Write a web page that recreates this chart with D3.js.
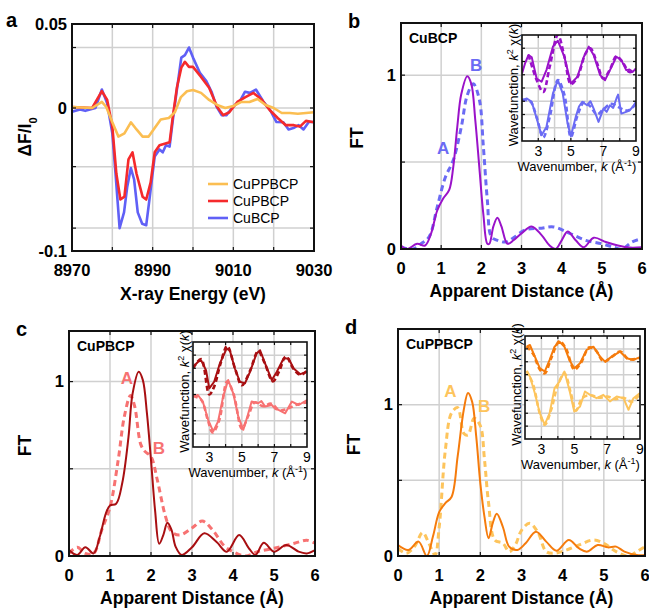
<!DOCTYPE html>
<html>
<head>
<meta charset="utf-8">
<script src="https://cdn.jsdelivr.net/npm/d3@7/dist/d3.min.js"></script>
<style>
body{margin:0;background:#fff}
svg{font-family:Arial,"Liberation Sans",sans-serif}
</style>
</head>
<body>
<div id="chart"></div>
<script>
// ---- panel a : XANES difference ----
const energyTicks = [8970, 8990, 9010, 9030]
const energyGrid = [8980, 8990, 9000, 9010, 9020]
const dfTicks = [[0.05, "0.05"], [0, "0"], [-0.1, "-0.1"]]
const dfGrid = [0.036, 0, -0.041, -0.084]
const seriesNames = ["CuPPBCP", "CuPBCP", "CuBCP"]

const xanesBCP = [[8970,-0.0026],[8972,-0.001],[8973.3,-0.002],[8975.8,0],[8977.4,0.011],[8978.7,0.003],[8980,-0.0177],[8980.8,-0.046],[8981.8,-0.084],[8982.9,-0.073],[8983.7,-0.055],[8984.6,-0.042],[8985.4,-0.05],[8986.3,-0.073],[8987.4,-0.081],[8988.4,-0.082],[8989.2,-0.064],[8990.5,-0.034],[8991.7,-0.029],[8992.5,-0.031],[8993.3,-0.026],[8994.2,-0.027],[8995,-0.0084],[8995.9,0.009],[8997.1,0.030],[8998,0.0315],[8999,0.036],[9000,0.030],[9001.7,0.021],[9003.3,0.016],[9004.6,0.0097],[9005.8,0.001],[9007.1,-0.005],[9008.3,-0.005],[9010,0.001],[9011.6,0.004],[9012.9,0.0097],[9014.1,0.009],[9015.6,0.011],[9017.4,0.004],[9019.1,-0.0014],[9020.7,-0.0098],[9022.4,-0.01],[9023.7,-0.015],[9024.9,-0.014],[9026.2,-0.012],[9027.4,-0.015],[9028.7,-0.0098],[9030,-0.0098]]
const xanesPBCP = [[8970,0.0006],[8975,0],[8977.4,0.010],[8978.7,0.005],[8980,-0.013],[8981,-0.046],[8982,-0.064],[8983,-0.062],[8984,-0.036],[8985,-0.031],[8986,-0.046],[8987.5,-0.062],[8988.4,-0.064],[8989.5,-0.052],[8990.5,-0.031],[8991.7,-0.026],[8994.2,-0.024],[8995,-0.006],[8996,0.012],[8997.1,0.024],[8998,0.0275],[8999,0.0245],[9000,0.0245],[9002,0.0185],[9004,0.012],[9006,0.0006],[9007.5,-0.005],[9009,-0.003],[9011,0.0036],[9013,0.0065],[9015,0.009],[9017,0.005],[9019,-0.0014],[9021,-0.007],[9023,-0.012],[9025,-0.012],[9026.5,-0.013],[9028,-0.009],[9030,-0.01]]
const xanesPPBCP = [[8970,0.0006],[8975,0],[8977.4,0.0036],[8978.5,0.0006],[8980,-0.01],[8981.5,-0.02],[8983,-0.0177],[8984.6,-0.01],[8986,-0.015],[8987.5,-0.02],[8989,-0.02],[8990.5,-0.014],[8992,-0.008],[8994,-0.007],[8995.5,-0.003],[8997,0.0065],[8998.5,0.010],[9000,0.0107],[9002,0.009],[9004,0.0048],[9006,0.0018],[9008,0],[9010,0.0012],[9012,0.0036],[9014,0.0036],[9016,0.0054],[9018,0.0018],[9020,0],[9022,-0.0035],[9024,-0.0035],[9026,-0.004],[9028,-0.0035],[9030,-0.003]]

// ---- panels b-d : Fourier transforms ----
const distTicks = [0, 1, 2, 3, 4, 5, 6]
const distGrid = [1, 2, 3, 4, 5]
const ftTicks = [[0, "0"], [1, "1"]]
const ftGrid = [0.5, 1]

const ftBCP = [[0,0.02],[0.15,0],[0.4,0.03],[0.6,0.02],[0.75,0.09],[0.9,0.22],[1.05,0.29],[1.2,0.34],[1.3,0.47],[1.4,0.70],[1.5,0.89],[1.65,0.994],[1.75,0.95],[1.85,0.74],[1.95,0.47],[2.05,0.20],[2.15,0.03],[2.2,0.03],[2.3,0.13],[2.4,0.18],[2.5,0.13],[2.65,0.03],[2.8,0.05],[3.0,0.09],[3.25,0.13],[3.5,0.08],[3.7,0.02],[3.85,0],[4.0,0.05],[4.15,0.10],[4.35,0.05],[4.55,0.01],[4.8,0.065],[5.1,0.04],[5.4,0.02],[5.7,0.008],[6.0,0.01]]
const ftBCPref = [[0,0.01],[0.3,0],[0.5,0.03],[0.7,0.07],[0.9,0.24],[1.1,0.41],[1.3,0.51],[1.5,0.70],[1.65,0.885],[1.8,0.95],[1.95,0.86],[2.05,0.59],[2.15,0.28],[2.25,0.07],[2.4,0.05],[2.6,0.04],[2.8,0.065],[3.1,0.11],[3.5,0.12],[3.8,0.127],[4.2,0.09],[4.6,0.05],[5.0,0.03],[5.3,0.01],[5.5,0],[5.75,0.04],[6.0,0.06]]
const ftPBCP = [[0,0.034],[0.2,0.006],[0.4,0.05],[0.6,0.015],[0.75,0.11],[0.9,0.245],[1.0,0.29],[1.15,0.30],[1.3,0.42],[1.45,0.68],[1.55,0.93],[1.7,1.057],[1.8,1.01],[1.9,0.82],[2.0,0.55],[2.1,0.26],[2.2,0.07],[2.3,0.12],[2.4,0.19],[2.5,0.15],[2.6,0.054],[2.75,0.006],[3.0,0.05],[3.3,0.13],[3.6,0.08],[3.85,0.025],[4.15,0.12],[4.4,0.04],[4.55,0.006],[4.75,0.076],[5.0,0.025],[5.3,0.063],[5.6,0.025],[5.8,0.015],[6.0,0.034]]
const ftPBCPref = [[0,0.015],[0.2,0.05],[0.4,0.015],[0.6,0.015],[0.8,0.15],[1.0,0.28],[1.2,0.55],[1.35,0.8],[1.5,0.92],[1.6,0.86],[1.75,0.64],[1.85,0.6],[2.0,0.57],[2.15,0.44],[2.35,0.23],[2.5,0.14],[2.7,0.12],[3.0,0.16],[3.25,0.2],[3.5,0.15],[3.8,0.054],[4.0,0.025],[4.3,0],[4.6,0.025],[5.0,0.044],[5.5,0.073],[5.8,0.09],[6.0,0.073]]
const ftPPBCP = [[0,0.073],[0.25,0.04],[0.5,0.095],[0.7,0],[0.85,0.13],[1.0,0.29],[1.15,0.35],[1.3,0.39],[1.45,0.66],[1.6,0.97],[1.7,1.077],[1.8,1.02],[1.9,0.79],[2.0,0.48],[2.1,0.26],[2.2,0.117],[2.3,0.216],[2.4,0.28],[2.55,0.19],[2.7,0.062],[2.9,0.04],[3.1,0.084],[3.35,0.16],[3.6,0.095],[3.85,0.035],[4.15,0.106],[4.4,0.05],[4.6,0.029],[4.85,0.073],[5.1,0.057],[5.3,0.062],[5.5,0.029],[5.8,0.007],[6.0,0.007]]
const ftPPBCPref = [[0,0.05],[0.2,0.018],[0.4,0.062],[0.6,0.155],[0.75,0.084],[0.9,0.007],[1.0,0.19],[1.15,0.7],[1.3,0.945],[1.45,0.98],[1.6,0.81],[1.7,0.8],[1.85,0.91],[2.0,0.86],[2.1,0.64],[2.2,0.35],[2.35,0.106],[2.55,0.084],[2.7,0.029],[2.85,0.073],[3.0,0.17],[3.2,0.216],[3.4,0.155],[3.6,0.029],[3.8,0.018],[4.1,0.04],[4.4,0.073],[4.75,0.106],[5.0,0.084],[5.3,0.029],[5.6,0],[5.8,0.029],[6.0,0.062]]

// ---- insets : k-space wavefunctions (arbitrary offset units) ----
const kTicks = [3, 5, 7, 9]
const kGrid = [3, 4, 5, 6, 7, 8]
const chiGrid = [1, 2, 3, 4, 5, 6, 7]

const chiBCPfit = [[2.0,5.1],[2.2,5.9],[2.4,6.49],[2.6,6.31],[2.9,4.72],[3.2,4.47],[3.5,5.35],[3.9,7.12],[4.2,7.57],[4.6,6.36],[5.0,4.34],[5.4,4.84],[5.8,6.36],[6.1,7.12],[6.4,6.49],[6.8,4.97],[7.1,4.59],[7.4,5.35],[7.8,6.36],[8.1,6.1],[8.4,5.35],[8.6,5.4],[8.8,5.22],[9.0,5.48]]
const chiBCPfitDash = [[2.4,6.5],[2.9,4.6],[3.3,3.7],[3.7,5.6],[4.2,8.0],[4.6,6.4],[5.0,4.3],[5.4,4.8],[5.9,6.6],[6.2,7.0],[6.6,5.9],[7.0,4.7],[7.4,5.4],[7.8,6.4],[8.2,5.9],[8.6,5.2],[9.0,5.4]]
const chiBCP = [[2.0,3.08],[2.3,3.21],[2.6,2.95],[2.9,1.7],[3.2,0.43],[3.5,1.06],[3.9,3.59],[4.2,4.59],[4.5,3.59],[4.8,1.32],[5.0,0.35],[5.3,1.82],[5.5,2.6],[5.7,2.95],[6.0,2.7],[6.2,3.0],[6.4,2.45],[6.7,1.44],[7.0,2.45],[7.2,2.2],[7.4,2.7],[7.6,2.5],[7.8,3.21],[7.9,3.5],[8.1,2.07],[8.4,2.2],[8.6,2.3],[8.8,2.57],[9.0,2.95]]
const chiBCPdash = [[2.0,3.1],[2.5,3.0],[2.9,1.8],[3.3,0.25],[3.7,1.8],[4.2,4.6],[4.6,3.5],[5.0,0.3],[5.4,1.9],[5.8,2.9],[6.2,2.6],[6.6,2.0],[7.0,2.4],[7.5,2.8],[8.0,2.5],[8.5,2.3],[9.0,2.8]]

const chiPBCPfit = [[2.0,6.1],[2.3,6.48],[2.5,6.6],[2.8,5.85],[3.0,4.47],[3.3,4.97],[3.65,6.36],[4.06,7.5],[4.26,7.37],[4.57,5.98],[4.88,4.97],[5.19,4.85],[5.5,5.73],[5.9,7.12],[6.12,7.37],[6.43,6.36],[6.84,5.1],[7.15,5.73],[7.56,6.74],[7.87,6.74],[8.18,5.98],[8.59,5.55],[9.0,5.73]]
const chiPBCPfitDash = [[2.0,6.0],[2.5,6.7],[3.0,4.0],[3.3,4.6],[3.7,6.4],[4.1,7.7],[4.6,5.9],[5.0,4.7],[5.5,5.8],[6.0,7.3],[6.4,6.4],[6.9,5.0],[7.3,5.8],[7.7,6.9],[8.2,5.9],[8.6,5.5],[9.0,5.8]]
const chiPBCP = [[2.0,3.84],[2.3,3.96],[2.6,3.46],[2.93,2.07],[3.24,1.19],[3.54,1.94],[3.85,3.84],[4.16,5.1],[4.47,4.09],[4.78,2.32],[5.09,1.31],[5.34,2.32],[5.6,3.46],[6.0,3.33],[6.2,3.5],[6.43,3.08],[6.84,3.2],[7.05,2.9],[7.25,2.83],[7.66,2.57],[8.07,3.46],[8.49,3.2],[9.0,3.58]]
const chiPBCPdash = [[2.0,3.9],[2.5,3.6],[2.9,2.1],[3.2,1.1],[3.6,2.0],[4.1,5.0],[4.5,4.0],[5.0,1.4],[5.4,2.4],[5.8,3.4],[6.3,3.1],[6.8,3.3],[7.3,2.8],[7.8,2.9],[8.3,3.2],[9.0,3.4]]

const chiPPBCPfit = [[2.1,7.17],[2.3,7.3],[2.6,6.4],[2.9,5.5],[3.2,5.24],[3.5,6.14],[3.8,7.17],[4.1,7.56],[4.4,7.17],[4.7,6.14],[5.0,5.5],[5.35,5.88],[5.75,6.92],[6.16,7.17],[6.57,6.4],[6.87,6.01],[7.28,6.4],[7.78,6.79],[8.19,6.27],[8.6,6.14],[9.0,6.35]]
const chiPPBCPfitDash = [[2.1,7.2],[2.5,6.6],[2.9,5.4],[3.2,5.1],[3.6,6.3],[4.1,7.6],[4.5,7.0],[5.0,5.4],[5.4,5.9],[5.9,7.1],[6.3,6.9],[6.8,6.0],[7.3,6.4],[7.8,6.8],[8.3,6.2],[9.0,6.3]]
const chiPPBCP = [[2.1,5.24],[2.3,4.85],[2.6,3.56],[2.9,2.01],[3.2,1.11],[3.5,2.01],[3.8,3.95],[4.1,4.46],[4.4,5.24],[4.7,3.82],[5.0,2.14],[5.35,2.53],[5.65,3.69],[5.96,3.43],[6.36,3.17],[6.77,3.43],[7.17,2.92],[7.58,3.3],[7.99,3.17],[8.3,2.27],[8.6,3.17],[9.0,3.56]]
const chiPPBCPdash = [[2.1,5.3],[2.5,4.2],[2.9,2.0],[3.2,1.1],[3.6,2.3],[4.0,4.2],[4.4,5.1],[4.8,3.5],[5.1,2.2],[5.5,3.2],[6.0,3.4],[6.5,3.2],[7.0,3.3],[7.5,3.1],[8.0,3.2],[8.5,2.9],[9.0,3.5]]

const grid = "#d0d0d0"

const svg = d3.select("#chart").append("svg").attr("width", 649).attr("height", 609)

drawPanelA()
drawFTPanel({letter:"b", name:"CuBCP", box:{left:401,right:642,top:23,bottom:249}, ymax:1.3,
  main:ftBCP, ref:ftBCPref, dark:"#9a12c9", light:"#6b6bf4", marks:[["A",1.05,0.58],["B",1.87,1.06]],
  inset:{left:522,right:636,top:35,bottom:141}, up:chiBCPfit, upDash:chiBCPfitDash, low:chiBCP, lowDash:chiBCPdash})
drawFTPanel({letter:"c", name:"CuPBCP", box:{left:69,right:315,top:331,bottom:556}, ymax:1.29,
  main:ftPBCP, ref:ftPBCPref, dark:"#a80f12", light:"#f77272", marks:[["A",1.41,1.02],["B",2.19,0.62]],
  inset:{left:193,right:307,top:342,bottom:447}, up:chiPBCPfit, upDash:chiPBCPfitDash, low:chiPBCP, lowDash:chiPBCPdash})
drawFTPanel({letter:"d", name:"CuPPBCP", box:{left:398,right:645,top:329,bottom:556}, ymax:1.5,
  main:ftPPBCP, ref:ftPPBCPref, dark:"#f57b0c", light:"#fdc45c", marks:[["A",1.27,1.09],["B",2.09,0.99]],
  inset:{left:525,right:640,top:336,bottom:439}, up:chiPPBCPfit, upDash:chiPPBCPfitDash, low:chiPPBCP, lowDash:chiPPBCPdash})

function drawGrid(g, sc, box, xs, ys){
  g.append("g").selectAll("line").data(xs).join("line")
    .attr("x1", d => sc.x(d)).attr("x2", d => sc.x(d)).attr("y1", box.top).attr("y2", box.bottom)
    .attr("stroke", grid).attr("stroke-width", 1.5)
  g.append("g").selectAll("line").data(ys).join("line")
    .attr("y1", d => sc.y(d)).attr("y2", d => sc.y(d)).attr("x1", box.left).attr("x2", box.right)
    .attr("stroke", grid).attr("stroke-width", 1.5)
}

function drawBorder(g, sc, box, xs, ys, len, w){
  const t = g.append("g").attr("stroke", "#111").attr("stroke-width", 1.2)
  xs.forEach(v => {
    t.append("line").attr("x1", sc.x(v)).attr("x2", sc.x(v)).attr("y1", box.bottom).attr("y2", box.bottom - len)
    t.append("line").attr("x1", sc.x(v)).attr("x2", sc.x(v)).attr("y1", box.top).attr("y2", box.top + len)
  })
  ys.forEach(v => {
    t.append("line").attr("y1", sc.y(v)).attr("y2", sc.y(v)).attr("x1", box.left).attr("x2", box.left + len)
    t.append("line").attr("y1", sc.y(v)).attr("y2", sc.y(v)).attr("x1", box.right).attr("x2", box.right - len)
  })
  g.append("rect").attr("x", box.left).attr("y", box.top)
    .attr("width", box.right - box.left).attr("height", box.bottom - box.top)
    .attr("fill", "none").attr("stroke", "#111").attr("stroke-width", w)
}

function clipFor(id, box){
  svg.append("clipPath").attr("id", id).append("rect")
    .attr("x", box.left).attr("y", box.top).attr("width", box.right - box.left).attr("height", box.bottom - box.top)
  return `url(#${id})`
}

function axisText(g, sc, box, xt, yt, fs){
  g.append("g").selectAll("text").data(xt).join("text")
    .attr("x", d => sc.x(d)).attr("y", box.bottom + 19).attr("dy", "0.35em")
    .attr("text-anchor", "middle").attr("font-size", fs).attr("font-weight", "bold").text(d => d)
  g.append("g").selectAll("text").data(yt).join("text")
    .attr("x", box.left - 5).attr("y", d => sc.y(d[0])).attr("dy", "0.35em")
    .attr("text-anchor", "end").attr("font-size", fs).attr("font-weight", "bold").text(d => d[1])
}

function drawPanelA(){
  const box = {left:72, right:314, top:24, bottom:251}
  const sc = {
    x: d3.scaleLinear().domain([8970, 9030]).range([box.left, box.right]),
    y: d3.scaleLinear().domain([-0.1, 0, 0.05]).range([box.bottom, 108, box.top])
  }
  const g = svg.append("g")
  drawGrid(g, sc, box, energyGrid, dfGrid)
  const line = d3.line().x(d => sc.x(d[0])).y(d => sc.y(d[1]))
  const clip = clipFor("clipA", box)
  const colors = ["#fbbe52", "#f52a2c", "#6060f6"]
  const data = [xanesPPBCP, xanesPBCP, xanesBCP]
  ;[2, 1, 0].forEach(i => {
    g.append("path").datum(data[i]).attr("clip-path", clip).attr("fill", "none")
      .attr("stroke", colors[i]).attr("stroke-width", 2.6).attr("stroke-linejoin", "round").attr("d", line)
  })
  drawBorder(g, sc, box, energyGrid, dfGrid, 4, 2)
  axisText(g, sc, box, energyTicks, dfTicks, 16.5)

  g.append("text").attr("x", 193).attr("y", box.bottom + 43).attr("dy", "0.35em").attr("text-anchor", "middle")
    .attr("font-size", 17.5).attr("font-weight", "bold").text("X-ray Energy (eV)")
  const yl = g.append("text").attr("transform", `translate(${box.left - 47},137) rotate(-90)`)
    .attr("dy", "0.35em").attr("text-anchor", "middle").attr("font-size", 17.5).attr("font-weight", "bold")
  yl.append("tspan").text("ΔF/I")
  yl.append("tspan").attr("font-size", 11).attr("baseline-shift", "sub").text("0")
  g.append("text").attr("x", 6).attr("y", 27).attr("font-size", 20).attr("font-weight", "bold").text("a")

  seriesNames.forEach((n, i) => {
    const y = 184 + i * 17
    g.append("line").attr("x1", 208).attr("x2", 228).attr("y1", y).attr("y2", y)
      .attr("stroke", colors[i]).attr("stroke-width", 2.6)
    g.append("text").attr("x", 233).attr("y", y).attr("dy", "0.35em").attr("font-size", 14).text(n)
  })
}

function drawFTPanel(p){
  const box = p.box
  const sc = {
    x: d3.scaleLinear().domain([0, 6]).range([box.left, box.right]),
    y: d3.scaleLinear().domain([0, p.ymax]).range([box.bottom, box.top])
  }
  const g = svg.append("g")
  drawGrid(g, sc, box, distGrid, ftGrid)
  const clip = clipFor("clip" + p.letter, box)
  const line = d3.line().x(d => sc.x(d[0])).y(d => sc.y(d[1])).curve(d3.curveCatmullRom.alpha(0.5))
  g.append("path").datum(p.ref).attr("clip-path", clip).attr("fill", "none").attr("stroke", p.light)
    .attr("stroke-width", 3).attr("stroke-dasharray", "6 4").attr("d", line)
  g.append("path").datum(p.main).attr("clip-path", clip).attr("fill", "none").attr("stroke", p.dark)
    .attr("stroke-width", 2).attr("d", line)
  drawBorder(g, sc, box, distGrid, ftGrid, 4, 2)
  axisText(g, sc, box, distTicks, ftTicks, 16.5)

  g.append("text").attr("x", (box.left + box.right) / 2).attr("y", box.bottom + 42).attr("dy", "0.35em")
    .attr("text-anchor", "middle").attr("font-size", 17.5).attr("font-weight", "bold").text("Apparent Distance (Å)")
  g.append("text").attr("transform", `translate(${box.left - 44},${(box.top + box.bottom) / 2 + 2}) rotate(-90)`)
    .attr("dy", "0.35em").attr("text-anchor", "middle").attr("font-size", 17.5).attr("font-weight", "bold").text("FT")
  g.append("text").attr("x", box.left - 53).attr("y", box.top + 5).attr("font-size", 20).attr("font-weight", "bold").text(p.letter)
  g.append("text").attr("x", box.left + 8).attr("y", box.top + 20).attr("font-size", 14).attr("font-weight", "bold").text(p.name)
  g.append("g").selectAll("text").data(p.marks).join("text")
    .attr("x", d => sc.x(d[1])).attr("y", d => sc.y(d[2])).attr("dy", "0.35em").attr("text-anchor", "middle")
    .attr("fill", p.light).attr("font-size", 17).attr("font-weight", "bold").text(d => d[0])

  drawInset(p)
}

function drawInset(p){
  const box = p.inset
  const sc = {
    x: d3.scaleLinear().domain([2, 9]).range([box.left, box.right]),
    y: d3.scaleLinear().domain([0, 8]).range([box.bottom, box.top])
  }
  const g = svg.append("g")
  g.append("rect").attr("x", box.left).attr("y", box.top).attr("width", box.right - box.left)
    .attr("height", box.bottom - box.top).attr("fill", "#fff")
  drawGrid(g, sc, box, kGrid, chiGrid)
  const clip = clipFor("clipIn" + p.letter, box)
  const raw = d3.line().x(d => sc.x(d[0])).y(d => sc.y(d[1]))
  const fit = d3.line().x(d => sc.x(d[0])).y(d => sc.y(d[1])).curve(d3.curveCatmullRom.alpha(0.5))
  ;[[p.up, p.upDash, p.dark], [p.low, p.lowDash, p.light]].forEach(([s, f, c]) => {
    g.append("path").datum(f).attr("clip-path", clip).attr("fill", "none").attr("stroke", c)
      .attr("stroke-width", 2.6).attr("stroke-dasharray", "5 3").attr("d", fit)
    g.append("path").datum(s).attr("clip-path", clip).attr("fill", "none").attr("stroke", c)
      .attr("stroke-width", 2).attr("stroke-linejoin", "round").attr("d", raw)
  })
  drawBorder(g, sc, box, kGrid, chiGrid, 3, 1.6)

  g.append("g").selectAll("text").data(kTicks).join("text")
    .attr("x", d => sc.x(d)).attr("y", box.bottom + 10).attr("dy", "0.35em").attr("text-anchor", "middle")
    .attr("font-size", 14).text(d => d)
  const xl = g.append("text").attr("x", (box.left + box.right) / 2 - 2).attr("y", box.bottom + 25).attr("dy", "0.35em")
    .attr("text-anchor", "middle").attr("font-size", 13)
  xl.append("tspan").text("Wavenumber, ")
  xl.append("tspan").attr("font-style", "italic").text("k")
  xl.append("tspan").text(" (Å")
  xl.append("tspan").attr("font-size", 9).attr("baseline-shift", "super").text("-1")
  xl.append("tspan").text(")")
  const yl = g.append("text").attr("transform", `translate(${box.left - 4},${(box.top + box.bottom) / 2 - 3}) rotate(-90)`)
    .attr("text-anchor", "middle").attr("font-size", 13)
  yl.append("tspan").text("Wavefunction, ")
  yl.append("tspan").attr("font-style", "italic").text("k")
  yl.append("tspan").attr("font-size", 9).attr("baseline-shift", "super").text("2")
  yl.append("tspan").text(" χ(")
  yl.append("tspan").attr("font-style", "italic").text("k")
  yl.append("tspan").text(")")
}
</script>
</body>
</html>
